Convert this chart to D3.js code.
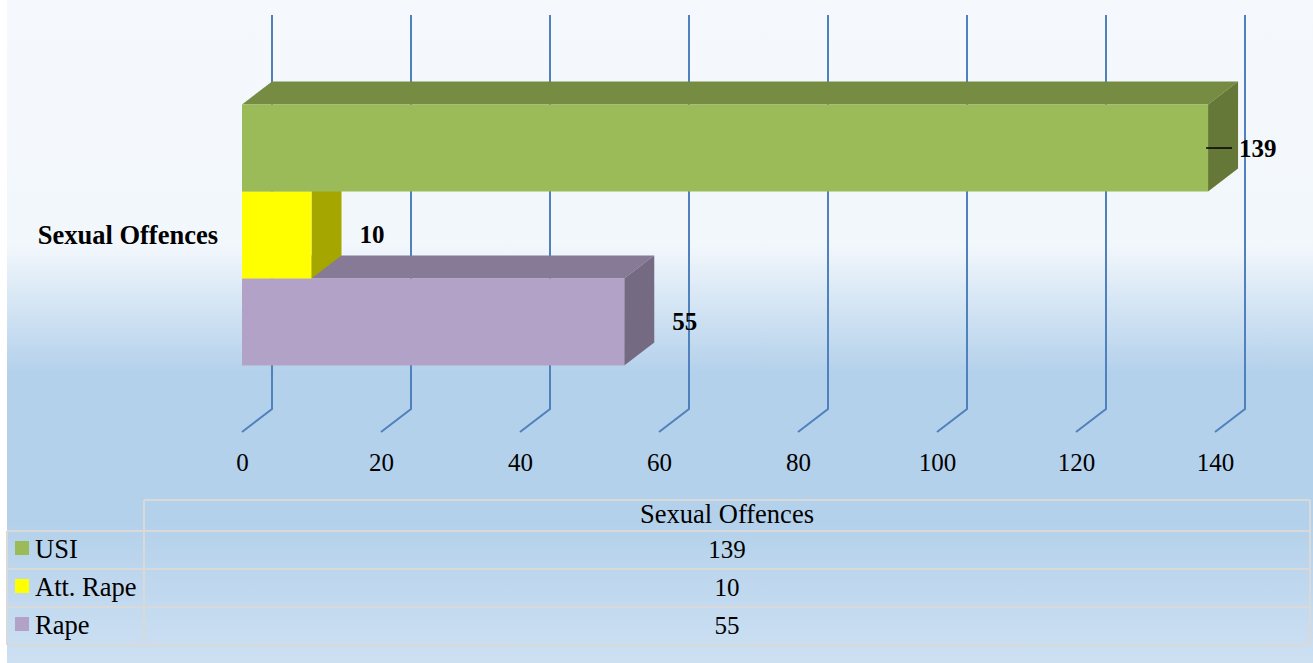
<!DOCTYPE html>
<html>
<head>
<meta charset="utf-8">
<script src="https://cdn.jsdelivr.net/npm/d3@7"></script>
<style>
  html, body { margin: 0; padding: 0; background: #fff; }
  svg { display: block; }
</style>
</head>
<body>
<svg id="chart" width="1313" height="663"></svg>
<script>
// data
const categories = ["Sexual Offences"];
const seriesNames = ["USI", "Att. Rape", "Rape"];
const seriesValues = [139, 10, 55];
const xTicks = [0, 20, 40, 60, 80, 100, 120, 140];

const W = 1313, H = 663;
const svg = d3.select("#chart").attr("viewBox", `0 0 ${W} ${H}`);
const FONT = "'Liberation Serif', 'Times New Roman', serif";
const NUM_SIZE = 25, TXT_SIZE = 26.5;

// colours per series: front, top, side
const FRONT = ["#9bbb59", "#ffff00", "#b3a2c7"];
const TOP   = ["#768c43", "#bfbf00", "#867a96"];
const SIDE  = ["#657838", "#a6a600", "#746a82"];

const defs = svg.append("defs");
const grad = defs.append("linearGradient").attr("id", "bg")
    .attr("x1", 0).attr("y1", 0).attr("x2", 0).attr("y2", 1);
[[0, "#f5f9fd"], [0.37, "#f2f7fc"], [0.56, "#b4d1eb"], [0.79, "#b4d1eb"], [1, "#cde0f2"]]
    .forEach(([o, c]) => grad.append("stop").attr("offset", o).attr("stop-color", c));

svg.append("rect").attr("x", 7).attr("y", 0).attr("width", W - 7).attr("height", H)
    .attr("fill", "url(#bg)");

// 3d depth of the plot
const dx = 30, dy = -23;
const floorY = 432, wallTop = 15;

const x = d3.scaleLinear().domain([0, 140]).range([242, 1215]);
const yCat = d3.scaleBand().domain(categories)
    .range([wallTop - dy, floorY]).paddingInner(0).paddingOuter(0.255);
const ySer = d3.scaleBand().domain(seriesNames).range([0, yCat.bandwidth()]).padding(0);

// gridlines on back wall + floor
const grid = svg.append("g");
grid.selectAll("path").data(xTicks).join("path")
    .attr("d", d => `M${x(d) + dx},${wallTop} L${x(d) + dx},${floorY + dy} L${x(d)},${floorY}`)
    .attr("fill", "none").attr("stroke", "#4f81bd").attr("stroke-width", 2);

// axis labels
const xAxis = svg.append("g").attr("transform", `translate(0,${floorY + 39})`)
    .call(d3.axisBottom(x).tickValues(xTicks).tickSize(0).tickPadding(0))
    .call(g => g.select(".domain").remove());
xAxis.selectAll("text")
    .attr("font-family", FONT)
    .attr("font-size", NUM_SIZE).attr("fill", "#000").attr("dy", 0);

// category label
svg.append("g").selectAll("text").data(categories).join("text")
    .attr("x", 218).attr("y", d => yCat(d) + yCat.bandwidth() / 2 + 9)
    .attr("text-anchor", "end")
    .attr("font-family", FONT)
    .attr("font-size", TXT_SIZE).attr("font-weight", "bold")
    .text(d => d);

// bars, drawn from bottom to top so the upper ones sit in front
const bars = seriesNames.map((s, i) => ({ name: s, value: seriesValues[i], i }));
const barG = svg.append("g");
bars.slice().reverse().forEach(b => {
    const y0 = yCat(categories[0]) + ySer(b.name);
    const y1 = y0 + ySer.bandwidth();
    const x0 = x(0), x1 = x(b.value);
    const g = barG.append("g");
    g.append("path")
        .attr("d", `M${x0},${y0} L${x0 + dx},${y0 + dy} L${x1 + dx},${y0 + dy} L${x1},${y0} Z`)
        .attr("fill", TOP[b.i]);
    g.append("path")
        .attr("d", `M${x1},${y0} L${x1 + dx},${y0 + dy} L${x1 + dx},${y1 + dy} L${x1},${y1} Z`)
        .attr("fill", SIDE[b.i]);
    g.append("rect").attr("x", x0).attr("y", y0)
        .attr("width", x1 - x0).attr("height", y1 - y0)
        .attr("fill", FRONT[b.i]);
});

// data labels
const maxV = d3.max(seriesValues);
const lab = svg.append("g")
    .attr("font-family", FONT)
    .attr("font-size", NUM_SIZE).attr("font-weight", "bold");
bars.forEach(b => {
    const yc = yCat(categories[0]) + ySer(b.name) + ySer.bandwidth() / 2;
    if (b.value === maxV) {
        // label pushed in next to the bar end, with a leader line
        lab.append("line")
            .attr("x1", x(b.value) - 2).attr("x2", x(b.value) + 24)
            .attr("y1", yc).attr("y2", yc)
            .attr("stroke", "#000").attr("stroke-width", 1.5);
        lab.append("text").attr("x", x(b.value) + dx + 1).attr("y", yc + 9).text(b.value);
    } else {
        lab.append("text").attr("x", x(b.value) + dx + 18).attr("y", yc + 8).text(b.value);
    }
});

// data table
const tbl = { left: 7, split: 144, right: 1310, top: 500, head: 31, row: 38 };
const rowY = i => tbl.top + tbl.head + i * tbl.row;
const tg = svg.append("g");
const lineC = "#d9d9d9";
const hl = (x1, x2, y) => tg.append("line").attr("x1", x1).attr("x2", x2).attr("y1", y).attr("y2", y)
    .attr("stroke", lineC).attr("stroke-width", 2);
const vl = (xv, y1, y2) => tg.append("line").attr("x1", xv).attr("x2", xv).attr("y1", y1).attr("y2", y2)
    .attr("stroke", lineC).attr("stroke-width", 2);

hl(tbl.split, tbl.right, tbl.top);
seriesNames.forEach((s, i) => hl(tbl.left, tbl.right, rowY(i)));
hl(tbl.left, tbl.right, rowY(seriesNames.length));
vl(tbl.split, tbl.top, rowY(seriesNames.length));
vl(tbl.right, tbl.top, rowY(seriesNames.length));
vl(tbl.left, rowY(0), rowY(seriesNames.length));

const midX = (tbl.split + tbl.right) / 2;
const tText = tg.append("g")
    .attr("font-family", FONT).attr("fill", "#000");
tText.selectAll(".hdr").data(categories).join("text").attr("class", "hdr")
    .attr("x", midX).attr("y", tbl.top + 23).attr("text-anchor", "middle")
    .attr("font-size", TXT_SIZE).text(d => d);

seriesNames.forEach((s, i) => {
    const yc = rowY(i) + tbl.row / 2;
    tg.append("rect").attr("x", 15).attr("y", yc - 9).attr("width", 14).attr("height", 14)
        .attr("fill", FRONT[i]);
    tText.append("text").attr("x", 35).attr("y", yc + 8).attr("font-size", TXT_SIZE).text(s);
    tText.append("text").attr("x", midX).attr("y", yc + 8).attr("text-anchor", "middle")
        .attr("font-size", NUM_SIZE).text(seriesValues[i]);
});
</script>
</body>
</html>
